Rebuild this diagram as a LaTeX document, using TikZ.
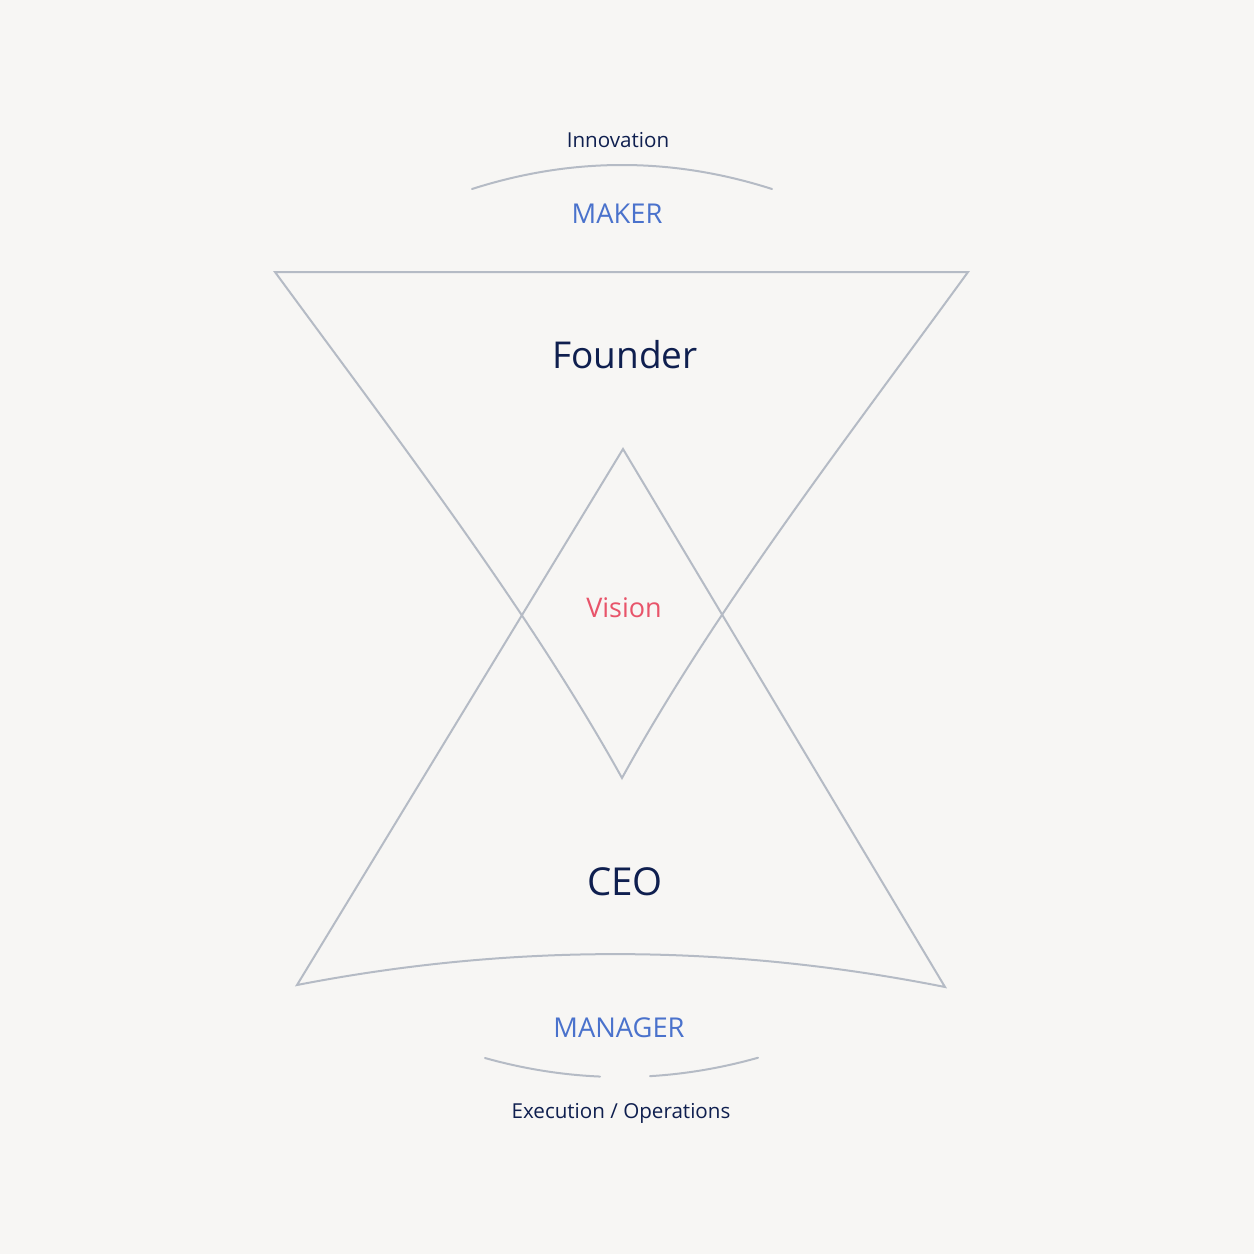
\documentclass[tikz,border=0pt]{standalone}
\usepackage{fontspec}
\setmainfont{Open Sans}
\definecolor{bg}{HTML}{F7F6F4}
\definecolor{linegray}{HTML}{B5BBC5}
\definecolor{navy}{HTML}{0F1F4F}
\definecolor{roleblue}{HTML}{4A72CC}
\definecolor{visionred}{HTML}{E8546A}
\tikzset{
  shapeline/.style={draw=linegray, line width=2pt, line join=miter},
  arcline/.style={draw=linegray, line width=2pt, line cap=round},
  smalltext/.style={text=navy, font=\fontsize{20.6}{24}\selectfont, inner sep=0pt, anchor=base},
  roletext/.style={text=roleblue, font=\fontsize{27.3}{32}\selectfont, inner sep=0pt, anchor=base},
  bigtext/.style={text=navy, font=\fontsize{37}{44}\selectfont, inner sep=0pt, anchor=base},
  visiontext/.style={text=visionred, font=\fontsize{27}{32}\selectfont, inner sep=0pt, anchor=base}
}
\begin{document}
\begin{tikzpicture}[x=1pt,y=-1pt]
\fill[bg] (0,0) rectangle (1254,1254);
\useasboundingbox (0,0) rectangle (1254,1254);
% triangle corners
\coordinate (tl) at (275,272);
\coordinate (tr) at (968,272);
\coordinate (tb) at (622,778);
\coordinate (ba) at (623,449);
\coordinate (bl) at (297,985);
\coordinate (br) at (945,987);
% top (inverted) triangle with slightly concave sides
\draw[shapeline] (tl) -- (tr) .. controls (845,441) and (715,609) .. (tb)
  .. controls (528,609) and (399,441) .. (tl) -- cycle;
% bottom triangle with curved base
\draw[shapeline] (ba) -- (br) .. controls (729,944) and (513,943) .. (bl) -- cycle;
% top arc
\coordinate (ta1) at (472,189);
\coordinate (ta2) at (772,189);
\draw[arcline] (ta1) .. controls (572,157) and (672,157) .. (ta2);
% bottom arc with gap
\draw[arcline] plot[domain=485:600, samples=30, smooth] (\x, {1077-(0.03205*(\x-621))^2});
\draw[arcline] plot[domain=650:758, samples=30, smooth] (\x, {1077-(0.03205*(\x-621))^2});
% texts
\node[smalltext] (innov) at (618,147) {Innovation};
\node[roletext] (maker) at (617,223) {MAKER};
\node[bigtext] (founder) at (625,368) {Founder};
\node[visiontext] (vision) at (624,617) {Vision};
\node[bigtext, font=\fontsize{38.5}{46}\selectfont] (ceo) at (625,895) {CEO};
\node[roletext] (manager) at (619,1037) {MANAGER};
\node[smalltext] (exec) at (621,1118) {Execution / Operations};
\end{tikzpicture}
\end{document}
